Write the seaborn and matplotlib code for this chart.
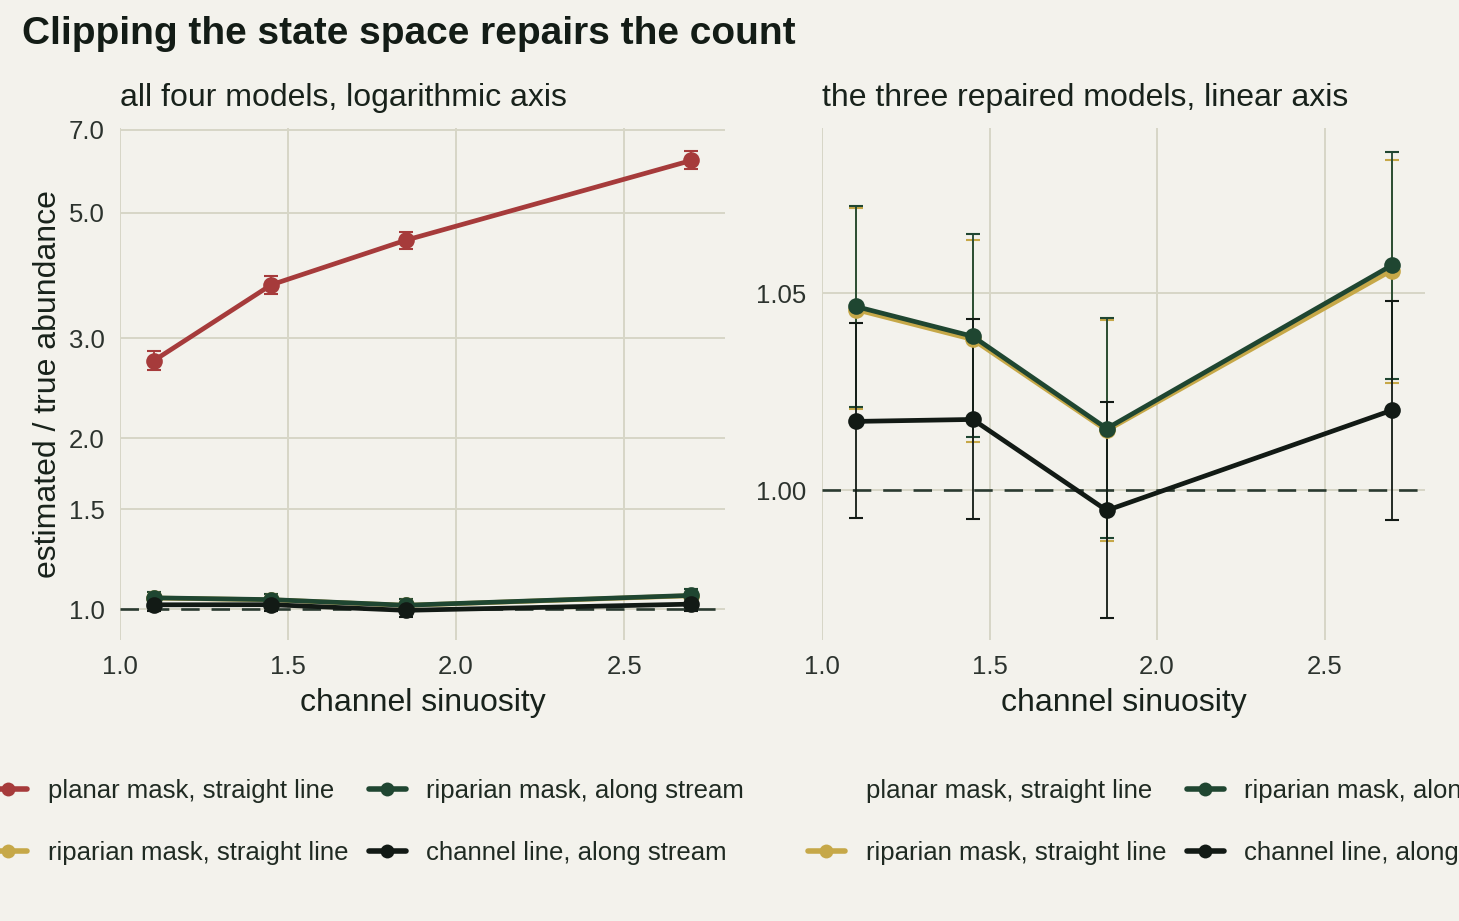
import pandas as pd
import numpy as np
import matplotlib
matplotlib.use("Agg")
import matplotlib.pyplot as plt
from matplotlib.lines import Line2D
from matplotlib.ticker import NullLocator, FixedLocator
import seaborn as sns

# values
sinuosity = [1.1, 1.45, 1.85, 2.7]
models = ["planar mask, straight line", "riparian mask, straight line",
          "riparian mask, along stream", "channel line, along stream"]
ratio = {
    "planar mask, straight line":   [2.74, 3.73, 4.47, 6.18],
    "riparian mask, straight line": [1.0459, 1.0383, 1.0152, 1.0558],
    "riparian mask, along stream":  [1.0467, 1.0391, 1.0157, 1.0571],
    "channel line, along stream":   [1.0175, 1.0180, 0.9949, 1.0203],
}
lower = {
    "planar mask, straight line":   [2.636, 3.60, 4.31, 5.96],
    "riparian mask, straight line": [1.0206, 1.0123, 0.9872, 1.0272],
    "riparian mask, along stream":  [1.0211, 1.0135, 0.9878, 1.0282],
    "channel line, along stream":   [0.9929, 0.9926, 0.9675, 0.9924],
}
upper = {
    "planar mask, straight line":   [2.847, 3.86, 4.63, 6.41],
    "riparian mask, straight line": [1.0718, 1.0636, 1.0432, 1.0840],
    "riparian mask, along stream":  [1.0723, 1.0652, 1.0437, 1.0860],
    "channel line, along stream":   [1.0424, 1.0434, 1.0224, 1.0480],
}
colors = ["#a63b3b", "#c6a848", "#1f4631", "#121a15"]

rows = []
for m in models:
    for i, s in enumerate(sinuosity):
        rows.append({"sinuosity": s, "model": m, "ratio": ratio[m][i],
                     "lo": lower[m][i], "hi": upper[m][i]})
df = pd.DataFrame(rows)

bg = "#f3f2ec"
grid = "#d7d6c6"
ink = "#18221b"

sns.set_theme(style="whitegrid")
plt.rcParams["font.family"] = ["Liberation Sans", "DejaVu Sans"]
plt.rcParams["text.color"] = ink
plt.rcParams["axes.labelcolor"] = ink

W, H = 1459, 921
fig = plt.figure(figsize=(W / 100, H / 100), dpi=100, facecolor=bg)
ax1 = fig.add_axes([120 / W, 1 - 640 / H, 605 / W, 512 / H])
ax2 = fig.add_axes([822 / W, 1 - 640 / H, 603 / W, 512 / H])

pal = dict(zip(models, colors))


def draw(ax, sub):
    for k, m in enumerate(sub):
        d = df[df.model == m]
        ax.errorbar(d.sinuosity, d.ratio,
                    yerr=[d.ratio - d.lo, d.hi - d.ratio],
                    fmt="none", ecolor=pal[m], elinewidth=1.3, capsize=5,
                    capthick=1.5, zorder=2 + k * 0.01)
    sns.lineplot(data=df[df.model.isin(sub)], x="sinuosity", y="ratio",
                 hue="model", hue_order=sub, palette=pal, marker="o",
                 markersize=12, markeredgewidth=0, linewidth=3.4,
                 errorbar=None, legend=False, ax=ax, zorder=3)
    ax.axhline(1.0, color="#2a3a30", lw=1.9, ls=(0, (7, 4.5)), zorder=1.5)


draw(ax1, models)
draw(ax2, models[1:])

for ax in (ax1, ax2):
    ax.set_facecolor(bg)
    for sp in ax.spines.values():
        sp.set_visible(False)
    ax.grid(True, color=grid, lw=1.4)
    ax.set_axisbelow(True)
    ax.set_xlim(1.0, 2.8)
    ax.set_xticks([1.0, 1.5, 2.0, 2.5])
    ax.set_xticklabels(["1.0", "1.5", "2.0", "2.5"])
    ax.tick_params(length=0, pad=11, labelsize=18.5, colors="#2c332e")
    ax.set_xlabel("channel sinuosity", fontsize=23, labelpad=6)

ax1.set_yscale("log")
ax1.set_ylim(0.882, 7.05)
ax1.yaxis.set_major_locator(FixedLocator([1.0, 1.5, 2.0, 3.0, 5.0, 7.0]))
ax1.yaxis.set_minor_locator(NullLocator())
ax1.set_yticklabels(["1.0", "1.5", "2.0", "3.0", "5.0", "7.0"])
ax1.set_ylabel("estimated / true abundance", fontsize=23, labelpad=4)
ax1.set_title("all four models, logarithmic axis", loc="left", fontsize=23, pad=16)

ax2.set_ylim(0.962, 1.092)
ax2.set_yticks([1.00, 1.05])
ax2.set_yticklabels(["1.00", "1.05"])
ax2.set_ylabel("")
ax2.set_title("the three repaired models, linear axis", loc="left", fontsize=23, pad=16)

fig.text(22 / W, 1 - 44 / H, "Clipping the state space repairs the count",
         fontsize=28, fontweight="bold", color="#131c16", va="baseline")


def handles(blank_first):
    hs = []
    for k, m in enumerate(models):
        a = 0 if (blank_first and k == 0) else 1
        hs.append(Line2D([], [], color=pal[m], lw=4, marker="o", ms=10,
                         markeredgewidth=0, alpha=a))
    return hs


for cx, blank in ((367, False), (1185, True)):
    leg = fig.legend(handles(blank), models, ncol=2, loc="center",
                     bbox_to_anchor=(cx / W, 1 - 822 / H), frameon=False,
                     fontsize=18.5, handlelength=1.45, handletextpad=0.8,
                     columnspacing=0.8, labelspacing=1.5)
    for t in leg.get_texts():
        t.set_color("#1f2a22")

fig.savefig("out.png", dpi=100, facecolor=bg)
